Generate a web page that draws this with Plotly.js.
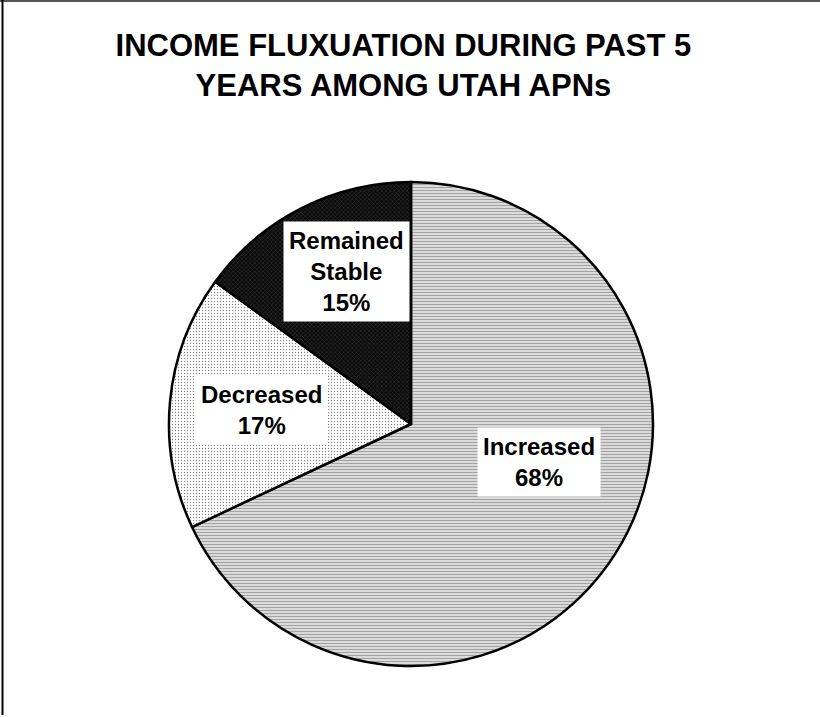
<!DOCTYPE html>
<html>
<head>
<meta charset="utf-8">
<script src="https://cdn.plot.ly/plotly-3.0.1.min.js"></script>
<style>
  html, body { margin: 0; padding: 0; background: #ffffff; }
  #chart { width: 820px; height: 717px; }
</style>
</head>
<body>
<div id="chart"></div>
<script>
// ---- data ----
const categories = ["Increased", "Decreased", "Remained Stable"];
const labelLines = ["Increased", "Decreased", "Remained<br>Stable"];
const values = [68, 17, 15];
const chartTitle = "INCOME FLUXUATION DURING PAST 5<br>YEARS AMONG UTAH APNs";

// ---- styles / positions (not data) ----
const W = 820, H = 717;
const pieCenter = [411, 424], pieR = 242;
const labelPos = [[539, 462], [261, 410], [346, 271]]; // pixel positions of label boxes
const patterns = [
  {shape: "-", bgcolor: "#e6e6e6", fgcolor: "#a4a4a4", size: 3, solidity: 0.45},
  {shape: ".", bgcolor: "#ffffff", fgcolor: "#868686", size: 3, solidity: 0.14},
  {shape: "x", bgcolor: "#0a0a0a", fgcolor: "#3c3c3c", size: 3, solidity: 0.3}
];

const total = values.reduce((a, b) => a + b, 0);
const annotations = categories.map((c, i) => ({
  xref: "paper", yref: "paper",
  x: labelPos[i][0] / W, y: 1 - labelPos[i][1] / H,
  xanchor: "center", yanchor: "middle",
  text: labelLines[i] + "<br>" + Math.round(values[i] / total * 100) + "%",
  showarrow: false,
  bgcolor: "#ffffff",
  borderpad: 5,
  font: {family: "Liberation Sans, Arial, sans-serif", size: 24, color: "#000000", weight: "bold"}
}));

const trace = {
  type: "pie",
  labels: categories,
  values: values,
  sort: false,
  direction: "clockwise",
  rotation: 0,
  textinfo: "none",
  hoverinfo: "none",
  marker: {
    colors: patterns.map(p => p.bgcolor),
    pattern: {
      shape: patterns.map(p => p.shape),
      bgcolor: patterns.map(p => p.bgcolor),
      fgcolor: patterns.map(p => p.fgcolor),
      size: patterns.map(p => p.size),
      solidity: patterns.map(p => p.solidity)
    },
    line: {color: "#000000", width: 2.5}
  },
  domain: {
    x: [(pieCenter[0] - pieR) / W, (pieCenter[0] + pieR) / W],
    y: [1 - (pieCenter[1] + pieR) / H, 1 - (pieCenter[1] - pieR) / H]
  }
};

const layout = {
  width: W, height: H,
  margin: {l: 0, r: 0, t: 0, b: 0},
  paper_bgcolor: "#ffffff",
  showlegend: false,
  title: {
    text: chartTitle,
    x: 0.492, xanchor: "center",
    y: 1 - 56 / H, yanchor: "top",
    font: {family: "Liberation Sans, Arial, sans-serif", size: 31, color: "#000000", weight: "bold"}
  },
  annotations: annotations,
  shapes: [
    {type: "line", xref: "paper", yref: "paper", x0: 0, x1: 1, y0: 1 - 1 / H, y1: 1 - 1 / H, line: {color: "#555555", width: 2}},
    {type: "line", xref: "paper", yref: "paper", x0: 2.5 / W, x1: 2.5 / W, y0: 2 / H, y1: 1, line: {color: "#000000", width: 2}}
  ]
};

Plotly.newPlot("chart", [trace], layout, {displayModeBar: false, staticPlot: true});
</script>
</body>
</html>
